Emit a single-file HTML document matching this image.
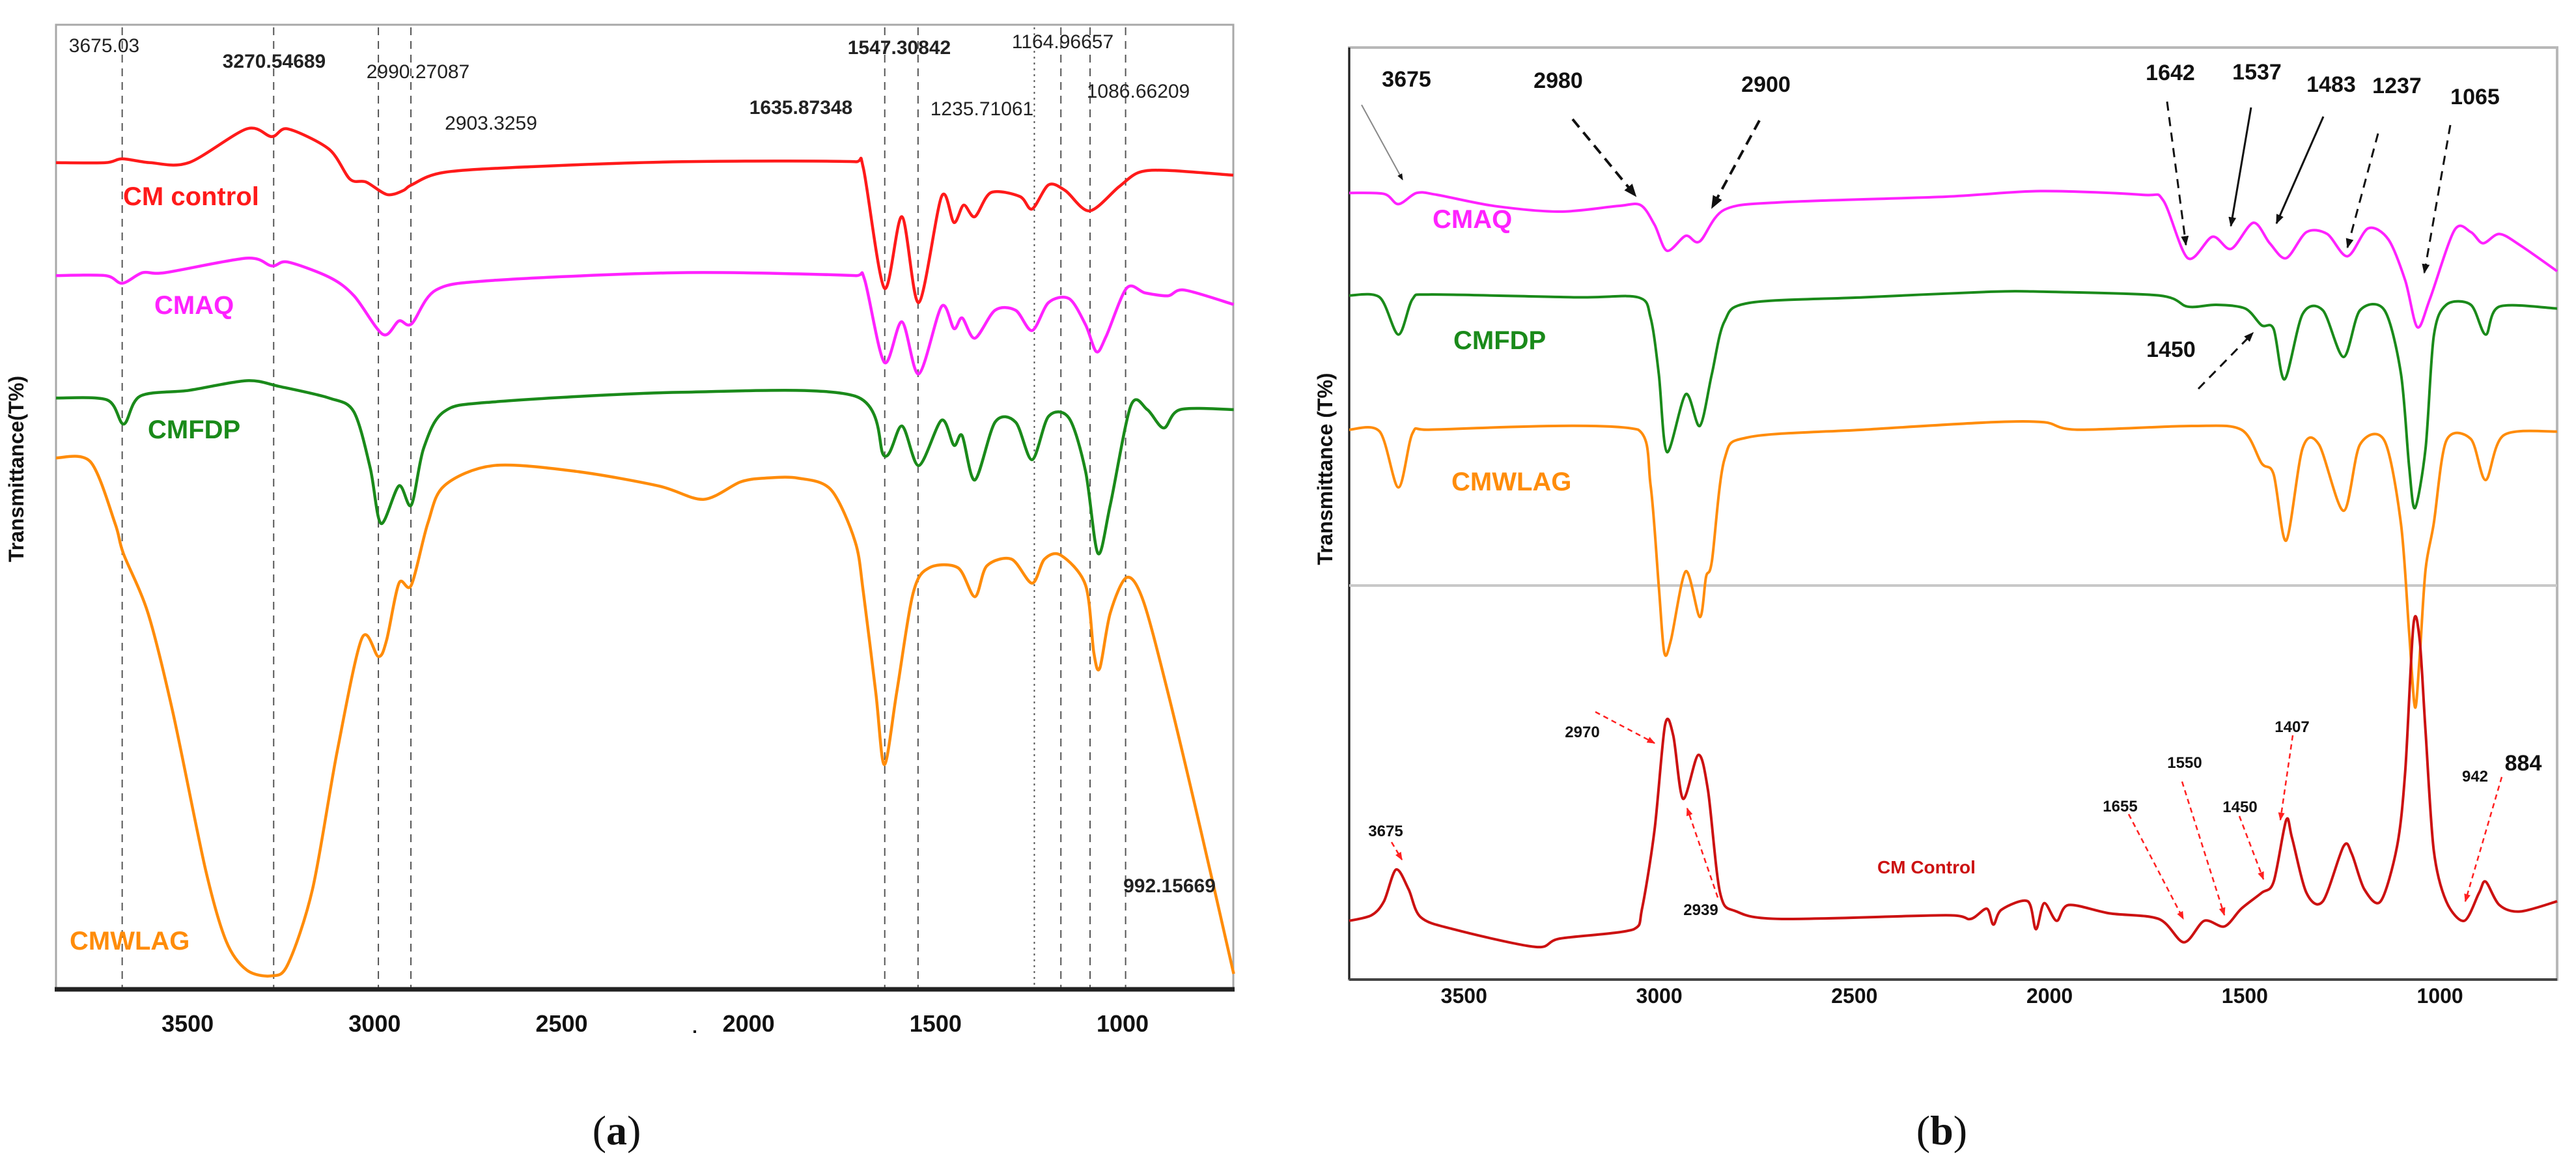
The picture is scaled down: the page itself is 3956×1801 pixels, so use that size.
<!DOCTYPE html>
<html><head><meta charset="utf-8">
<style>
html,body{margin:0;padding:0;background:#fff;}
svg{display:block;}
.n{font-family:"Liberation Sans Narrow","Liberation Sans",sans-serif;}
</style></head>
<body>
<svg id="fig" width="3956" height="1801" viewBox="0 0 3956 1801" xmlns="http://www.w3.org/2000/svg">
<rect x="0" y="0" width="3956" height="1801" fill="#fff"/>
</svg>
<script>
// ---------- Panel (a) data: [wavenumber cm-1, transmittance a.u.] ----------
const aTicks = [3500, 3000, 2500, 2000, 1500, 1000];
const aPeakLines = [3675, 3270, 2990, 2903, 1636, 1547, 1236, 1165, 1087, 992];
const aCMcontrol = [[3852,85.7],[3720,85.7],[3675,86.1],[3600,85.7],[3497,85.7],[3342,89.2],[3275,88.4],[3232,89.2],[3122,87.1],[3066,84.0],[3023,83.7],[2967,82.4],[2924,82.8],[2901,83.4],[2814,84.7],[2572,85.3],[2177,85.8],[1715,85.8],[1693,85.1],[1637,72.7],[1590,80.1],[1545,71.2],[1484,82.2],[1451,79.5],[1425,81.3],[1395,80.1],[1352,82.6],[1275,82.2],[1242,80.9],[1198,83.4],[1153,82.8],[1089,80.7],[1010,83.2],[956,84.7],[880,84.9],[704,84.4]];
const aCMAQ = [[3852,74.0],[3720,74.0],[3675,73.2],[3620,74.3],[3560,74.3],[3342,75.8],[3275,75.0],[3232,75.4],[3120,73.8],[3055,71.9],[2978,67.9],[2935,69.3],[2901,69.0],[2836,72.5],[2682,73.5],[2177,74.3],[1715,74.0],[1690,73.6],[1637,65.0],[1590,69.2],[1545,63.8],[1484,70.8],[1451,68.5],[1429,69.6],[1395,67.5],[1341,70.4],[1286,70.4],[1242,68.3],[1198,71.2],[1143,71.6],[1099,68.9],[1070,66.1],[1044,67.7],[989,72.7],[940,72.2],[879,71.9],[835,72.5],[703,71.0]];
const aCMFDP = [[3852,61.3],[3715,61.1],[3671,58.6],[3627,61.5],[3496,62.1],[3342,63.1],[3254,62.5],[3122,61.3],[3056,59.9],[3012,54.1],[2983,48.3],[2935,52.2],[2902,50.2],[2869,56.1],[2814,59.9],[2682,60.9],[2177,61.9],[1715,61.5],[1637,55.3],[1590,58.4],[1545,54.3],[1484,59.0],[1451,56.4],[1429,57.4],[1395,52.8],[1341,58.8],[1286,58.8],[1242,54.9],[1198,59.4],[1143,59.2],[1099,53.7],[1066,45.2],[1033,50.2],[978,60.5],[934,60.1],[890,58.2],[846,60.1],[703,60.1]];
const aCMWLAG = [[3852,55.1],[3760,54.7],[3694,48.3],[3672,45.2],[3606,39.0],[3540,28.8],[3452,12.4],[3397,5.0],[3342,2.0],[3276,1.4],[3232,2.6],[3166,10.4],[3100,24.7],[3034,36.4],[2990,34.5],[2968,36.2],[2935,42.1],[2902,41.9],[2858,48.3],[2814,52.2],[2682,54.3],[2462,53.7],[2242,52.2],[2121,50.8],[2022,52.6],[1956,53.0],[1868,53.0],[1780,51.8],[1715,46.4],[1693,41.1],[1660,30.8],[1637,23.3],[1604,30.8],[1560,41.1],[1517,43.7],[1440,43.7],[1395,40.7],[1363,43.9],[1297,44.6],[1242,42.1],[1209,44.6],[1165,45.0],[1099,41.9],[1077,34.9],[1061,33.3],[1033,39.0],[989,42.7],[945,40.3],[879,30.8],[791,16.5],[703,1.6]];

// ---------- Panel (b) data ----------
const bTicks = [3500, 3000, 2500, 2000, 1500, 1000];
const bCMAQ = [[3794,84.4],[3705,84.3],[3668,83.2],[3621,84.4],[3569,84.2],[3422,83.0],[3254,82.4],[3106,83.0],[3048,83.1],[3012,81.0],[2980,78.2],[2932,79.8],[2896,79.2],[2833,82.6],[2686,83.4],[2266,84.0],[2024,84.6],[1762,84.2],[1709,83.6],[1646,77.4],[1583,79.7],[1535,78.4],[1478,81.2],[1436,79.0],[1394,77.4],[1342,80.2],[1289,80.0],[1237,77.6],[1184,80.6],[1132,79.4],[1089,75.0],[1058,70.0],[1026,73.0],[963,80.4],[921,80.2],[890,79.0],[848,80.0],[795,78.8],[700,76.0]];
const bCMFDP = [[3794,73.4],[3716,73.2],[3668,69.2],[3632,73.0],[3590,73.5],[3212,73.2],[3054,73.2],[3022,71.0],[3001,65.0],[2980,56.6],[2932,62.8],[2896,59.4],[2865,65.0],[2833,70.6],[2770,72.6],[2476,73.2],[2150,73.8],[2014,73.8],[1720,73.4],[1646,72.2],[1573,72.4],[1499,72.0],[1457,70.2],[1426,69.8],[1398,64.4],[1352,71.4],[1300,71.8],[1247,66.8],[1205,71.8],[1142,71.8],[1100,65.0],[1079,55.0],[1064,50.6],[1037,57.0],[1016,69.0],[984,72.4],[921,72.4],[883,69.2],[848,72.2],[700,72.0]];
const bCMWLAG = [[3794,59.0],[3716,58.8],[3668,52.8],[3632,58.6],[3590,59.0],[3054,59.0],[3022,53.0],[3001,42.2],[2987,35.1],[2970,36.4],[2932,43.8],[2896,38.9],[2880,43.2],[2865,44.9],[2833,55.8],[2770,58.2],[2476,59.0],[2150,59.8],[2014,59.8],[1930,59.0],[1636,59.4],[1509,59.0],[1457,55.4],[1426,54.2],[1394,47.1],[1352,57.0],[1310,57.4],[1247,50.3],[1205,57.4],[1142,57.8],[1100,48.9],[1079,37.2],[1064,29.2],[1052,34.7],[1037,44.0],[1016,48.9],[984,57.8],[921,58.0],[883,53.6],[837,58.4],[700,58.8]];
const bCMcontrol = [[3794,6.3],[3737,6.9],[3705,8.4],[3674,11.8],[3642,9.7],[3611,6.7],[3527,5.4],[3317,3.5],[3254,4.4],[3065,5.4],[3044,7.6],[3012,16.0],[2985,27.3],[2964,26.2],[2939,19.4],[2900,24.1],[2875,20.3],[2844,9.3],[2802,7.3],[2686,6.5],[2266,6.9],[2203,6.5],[2161,7.6],[2144,5.9],[2123,7.5],[2056,8.4],[2035,5.4],[2014,8.2],[1982,6.3],[1951,8.0],[1846,7.1],[1720,6.5],[1656,4.0],[1604,6.3],[1552,5.7],[1509,7.6],[1457,9.3],[1426,10.5],[1394,17.1],[1379,15.2],[1342,9.3],[1300,8.4],[1247,14.3],[1226,13.5],[1194,9.7],[1152,8.4],[1110,14.3],[1089,22.4],[1068,38.1],[1052,36.4],[1037,26.6],[1016,13.9],[984,8.4],[938,6.3],[900,9.3],[883,10.5],[848,8.0],[795,7.3],[700,8.4]];

const NS = "http://www.w3.org/2000/svg";
const svg = document.getElementById("fig");
function mk(tag, attrs, parent){
  const e = document.createElementNS(NS, tag);
  for (const k in attrs) e.setAttribute(k, attrs[k]);
  (parent||svg).appendChild(e);
  return e;
}
function txt(str, x, y, size, fill, weight, anchor, cls, parent){
  const t = mk("text", {x:x, y:y, "font-size":size, fill:fill, "font-weight":weight||"normal", "text-anchor":anchor||"middle", "class":cls||"n"}, parent);
  t.textContent = str;
  return t;
}

// ---------- axis functions ----------
const A = {x0:86, x1:1894, y0:38, y1:1519, vMax:3852, vMin:704};
const B = {x0:2072, x1:3927, y0:73, y1:1504, vMax:3794, vMin:700};
function ax(P, v){ return P.x0 + (P.vMax - v) / (P.vMax - P.vMin) * (P.x1 - P.x0); }
function ay(P, t){ return P.y1 - t / 100 * (P.y1 - P.y0); }
function clamp(v, a, b){ const lo=Math.min(a,b), hi=Math.max(a,b); return Math.max(lo, Math.min(hi, v)); }
function pathOf(P, data){
  const pts = data.map(d=>[ax(P,d[0]), ay(P,d[1])]);
  let s = "M"+pts[0][0].toFixed(1)+" "+pts[0][1].toFixed(1);
  const k = 0.15;
  for (let i=0;i<pts.length-1;i++){
    const p0 = pts[Math.max(0,i-1)], p1 = pts[i], p2 = pts[i+1], p3 = pts[Math.min(pts.length-1,i+2)];
    const c1x = clamp(p1[0] + (p2[0]-p0[0])*k, p1[0], p2[0]), c1y = p1[1] + (p2[1]-p0[1])*k;
    const c2x = clamp(p2[0] - (p3[0]-p1[0])*k, p1[0], p2[0]), c2y = p2[1] - (p3[1]-p1[1])*k;
    s += " C"+c1x.toFixed(1)+" "+c1y.toFixed(1)+" "+c2x.toFixed(1)+" "+c2y.toFixed(1)+" "+p2[0].toFixed(1)+" "+p2[1].toFixed(1);
  }
  return s;
}

// ================= Panel (a) =================
const ga = mk("g", {});


const fa = mk("rect", {x:A.x0, y:A.y0, width:A.x1-A.x0, height:A.y1-A.y0, fill:"none", stroke:"#a8a8a8", "stroke-width":3}, ga);


aPeakLines.forEach(v=>{
  const l = mk("line", {x1:ax(A,v), x2:ax(A,v), y1:A.y0+4, y2:A.y1, stroke:"#555", "stroke-width":2, "stroke-dasharray": v===1236 ? "3 6" : "12 9"}, ga);
  
  
});
[[aCMcontrol,"#ff1a1a","series-cm-control"],[aCMAQ,"#ff22ff","series-cmaq"],[aCMFDP,"#1a8a1a","series-cmfdp"],[aCMWLAG,"#ff8c0a","series-cmwlag"]].forEach(s=>{
  const p = mk("path", {d:pathOf(A,s[0]), fill:"none", stroke:s[1], "stroke-width":4.5, "stroke-linejoin":"round"}, ga);
  
  
});
const ba = mk("line", {x1:A.x0-2, x2:A.x1+2, y1:A.y1, y2:A.y1, stroke:"#222", "stroke-width":7}, ga);


aTicks.forEach(v=>{
  const t = txt(String(v), ax(A,v), 1584, 36, "#111", "bold", "middle", "n", ga);
  
  
});
const dot = mk("rect", {x:1065, y:1582, width:4, height:4, fill:"#111"}, ga);


const aLabels = [["3675.03",160,80,"normal"],["3270.54689",421,104,"bold"],["2990.27087",642,120,"normal"],["2903.3259",754,199,"normal"],["1635.87348",1230,175,"bold"],["1547.30842",1381,83,"bold"],["1235.71061",1508,177,"normal"],["1164.96657",1632,74,"normal"],["1086.66209",1748,150,"normal"],["992.15669",1796,1370,"bold"]];
aLabels.forEach(l=>{
  const t = txt(l[0], l[1], l[2], 30, "#222", l[3], "middle", "n", ga);
  
  
});
[["CM control",189,315,"#ff1a1a","label-cm-control"],["CMAQ",237,482,"#ff22ff","label-cmaq"],["CMFDP",227,673,"#1a8a1a","label-cmfdp"],["CMWLAG",107,1458,"#ff8c0a","label-cmwlag"]].forEach(l=>{
  const t = txt(l[0], l[1], l[2], 40, l[3], "bold", "start", "n", ga);
  
  
});
const yta = txt("Transmittance(T%)", 0, 0, 32, "#111", "bold", "middle", "n", ga);
yta.setAttribute("transform","translate(36,720) rotate(-90)");


const capa = mk("text", {x:947, y:1757, "font-size":64, "font-family":"Liberation Serif, serif", "text-anchor":"middle", fill:"#111"}, ga);
capa.innerHTML = '(<tspan font-weight="bold">a</tspan>)';



// ================= Panel (b) =================
const gb = mk("g", {});


const fb = mk("rect", {x:B.x0, y:B.y0, width:B.x1-B.x0, height:B.y1-B.y0, fill:"none", stroke:"#b8b8b8", "stroke-width":4}, gb);


const lb = mk("line", {x1:B.x0, x2:B.x0, y1:B.y0, y2:B.y1, stroke:"#222", "stroke-width":3}, gb);


const sep = mk("line", {x1:B.x0, x2:B.x1, y1:899, y2:899, stroke:"#c8c8c8", "stroke-width":4}, gb);


[[bCMAQ,"#ff22ff","series-cmaq-b"],[bCMFDP,"#1a8a1a","series-cmfdp-b"],[bCMWLAG,"#ff8c0a","series-cmwlag-b"],[bCMcontrol,"#cc1111","series-cm-control-b"]].forEach(s=>{
  const p = mk("path", {d:pathOf(B,s[0]), fill:"none", stroke:s[1], "stroke-width":4, "stroke-linejoin":"round"}, gb);
  
  
});
const bb = mk("line", {x1:B.x0, x2:B.x1, y1:B.y1, y2:B.y1, stroke:"#444", "stroke-width":4}, gb);


bTicks.forEach(v=>{
  const t = txt(String(v), ax(B,v), 1540, 32, "#111", "bold", "middle", "n", gb);
  
  
});
const defs = mk("defs", {});
const mkr = mk("marker", {id:"ah", viewBox:"0 0 10 10", refX:9, refY:5, markerWidth:5, markerHeight:5, orient:"auto"}, defs);
mk("path", {d:"M0 1 L10 5 L0 9 z", fill:"#111"}, mkr);
const mkr2 = mk("marker", {id:"ahr", viewBox:"0 0 10 10", refX:9, refY:5, markerWidth:5, markerHeight:5, orient:"auto"}, defs);
mk("path", {d:"M0 1 L10 5 L0 9 z", fill:"#ff2020"}, mkr2);
const bArrows = [[2091,161,2154,276,"#888","",2],[2415,183,2512,301,"#111","16 10",4],[2702,185,2629,319,"#111","16 10",4],[3328,156,3357,376,"#111","14 10",3],[3457,165,3426,347,"#111","",3],[3568,179,3496,343,"#111","",3],[3652,205,3605,380,"#111","14 10",3],[3763,192,3723,419,"#111","14 10",3],[3376,597,3460,511,"#111","14 10",3]];
bArrows.forEach(a=>{
  const l = mk("line", {x1:a[0], y1:a[1], x2:a[2], y2:a[3], stroke:a[4], "stroke-width":a[6], "stroke-dasharray":a[5], "marker-end":"url(#ah)"}, gb);
  
  
});
const rArrows = [[2450,1093,2541,1141],[2137,1293,2153,1320],[2638,1378,2591,1241],[3269,1250,3353,1411],[3351,1200,3416,1405],[3439,1253,3476,1350],[3521,1129,3502,1259],[3842,1193,3786,1384]];
rArrows.forEach(a=>{
  const l = mk("line", {x1:a[0], y1:a[1], x2:a[2], y2:a[3], stroke:"#ff2020", "stroke-width":2.5, "stroke-dasharray":"8 6", "marker-end":"url(#ahr)"}, gb);
  
  
});
const bLabels = [["3675",2160,133,34],["2980",2393,135,34],["2900",2712,141,34],["1642",3333,123,34],["1537",3466,122,34],["1483",3580,141,34],["1237",3681,143,34],["1065",3801,160,34],["1450",3334,548,34],["2970",2430,1132,24],["3675",2128,1284,24],["2939",2612,1405,24],["1655",3256,1246,24],["1550",3355,1179,24],["1450",3440,1247,24],["1407",3520,1124,24],["942",3801,1200,24],["884",3875,1183,34]];
bLabels.forEach(l=>{
  const t = txt(l[0], l[1], l[2], l[3], "#111", "bold", "middle", "n", gb);
  
  
});
[["CMAQ",2200,350,"#ff22ff","label-cmaq-b",40],["CMFDP",2232,536,"#1a8a1a","label-cmfdp-b",40],["CMWLAG",2229,753,"#ff8c0a","label-cmwlag-b",40],["CM Control",2883,1341,"#cc1111","label-cm-control-b",28]].forEach(l=>{
  const t = txt(l[0], l[1], l[2], l[5], l[3], "bold", "start", "n", gb);
  
  
});
const ytb = txt("Transmittance (T%)", 0, 0, 32, "#111", "bold", "middle", "n", gb);
ytb.setAttribute("transform","translate(2046,720) rotate(-90)");


const capb = mk("text", {x:2982, y:1757, "font-size":64, "font-family":"Liberation Serif, serif", "text-anchor":"middle", fill:"#111"}, gb);
capb.innerHTML = '(<tspan font-weight="bold">b</tspan>)';


</script>
</body></html>
